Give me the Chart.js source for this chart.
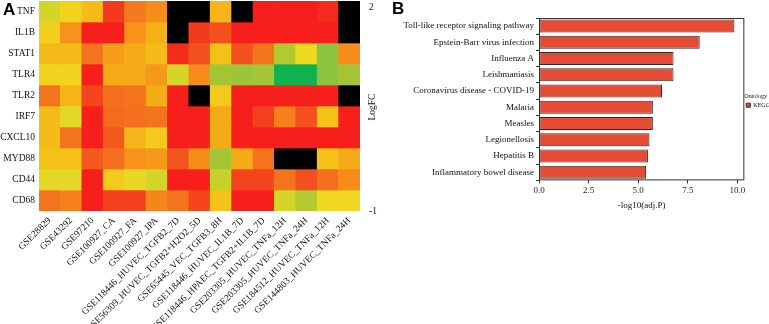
<!DOCTYPE html>
<html lang="en">
<head>
  <meta charset="UTF-8" />
  <title>LogFC heatmap and KEGG enrichment</title>
  <script src="https://cdn.jsdelivr.net/npm/chart.js"></script>
  <style>
    body {
      margin: 0;
      background: #fff;
    }

    .figure {
      position: relative;
      width: 769px;
      height: 324px;
      overflow: hidden;
    }

    .panel {
      position: absolute;
    }

    .tag {
      position: absolute;
      font-family: 'Liberation Sans', Arial, sans-serif;
      font-weight: bold;
      font-size: 17px;
      line-height: 17px;
      color: #000;
      z-index: 2;
    }
  </style>
</head>
<body>

  <div class="figure">
    <div class="tag" style="left:3px; top:1px;">A</div>
    <div class="tag" style="left:392px; top:0px;">B</div>

    <div class="panel" style="left:0; top:0; width:400px; height:324px;">
      <canvas id="heatChart"></canvas>
    </div>

    <div class="panel" style="left:400px; top:0; width:369px; height:215px;">
      <canvas id="keggChart"></canvas>
    </div>
  </div>

  <script>
    // ---- panel A data ----
    const genes = ['TNF', 'IL1B', 'STAT1', 'TLR4', 'TLR2', 'IRF7', 'CXCL10', 'MYD88', 'CD44', 'CD68'];

    const datasetsA = [
      'GSE28829', 'GSE43292', 'GSE97210', 'GSE100927_CA', 'GSE100927_FA', 'GSE100927_IPA',
      'GSE118446_HUVEC_TGFB2_7D', 'GSE56309_HUVEC_TGFB2+H2O2_5D', 'GSE65445_VEC_TGFB3_8H',
      'GSE118446_HUVEC_IL1B_7D', 'GSE118446_HPAEC_TGFB2+IL1B_7D', 'GSE203305_HUVEC_TNFa_12H',
      'GSE203305_HUVEC_TNFa_24H', 'GSE184512_HUVEC_TNFa_12H', 'GSE144803_HUVEC_TNFa_24H'
    ];

    // one row per gene, one value per dataset (values above 2 are shown black)
    const logFC = [
      [-0.05, 0.2, 0.45, 1.6, 1.0, 0.85, 2.5, 2.5, 0.5, 2.5, 1.95, 1.95, 1.95, 1.75, 2.5],
      [0.25, 0.8, 1.95, 1.95, 0.8, 0.55, 2.5, 1.6, 1.4, 1.95, 1.95, 1.95, 1.95, 1.95, 2.5],
      [0.45, 0.45, 1.05, 0.7, 0.6, 0.45, 1.75, 1.4, 0.4, 1.4, 1.05, -0.3, 0.15, -0.55, 0.85],
      [0.2, 0.2, 1.95, 0.6, 0.6, 0.75, -0.05, 0.85, -0.4, -0.45, -0.4, -0.95, -0.95, -0.55, -0.4],
      [1.05, 0.5, 1.5, 1.1, 1.05, 0.6, 1.95, 2.5, 0.3, 1.95, 1.95, 1.95, 1.95, 1.95, 2.5],
      [0.45, 0.05, 1.95, 1.15, 1.1, 1.05, 1.95, 1.95, 0.6, 1.95, 1.55, 0.95, 1.4, 0.38, 1.95],
      [0.45, 1.05, 1.95, 1.3, 0.5, 0.3, 1.95, 1.95, 0.6, 1.95, 1.95, 1.95, 1.95, 1.95, 1.95],
      [0.38, 0.38, 1.3, 1.1, 0.8, 0.75, 1.35, 0.85, -0.4, 0.6, 1.05, 2.5, 2.5, 0.38, 0.6],
      [0.05, 0.05, 1.95, 0.3, 0.1, -0.05, 1.95, 1.95, -0.15, 1.5, 1.5, 1.05, 1.4, 1.1, 0.85],
      [1.05, 0.95, 1.95, 1.55, 1.55, 0.9, 1.05, 1.5, 0.38, 1.95, 1.95, -0.05, -0.3, 0.15, 0.15]
    ];

    const colorbarTicks = [2, -1];

    // ---- panel B data ----
    const pathways = [
      'Toll-like receptor signaling pathway', 'Epstein-Barr virus infection', 'Influenza A',
      'Leishmaniasis', 'Coronavirus disease - COVID-19', 'Malaria', 'Measles',
      'Legionellosis', 'Hepatitis B', 'Inflammatory bowel disease'
    ];
    const negLog10P = [9.85, 8.1, 6.78, 6.78, 6.2, 5.74, 5.74, 5.57, 5.49, 5.4];
    const xTicksB = [0, 2.5, 5, 7.5, 10];

    // colour ramp green -> yellow -> red, black above the top of the scale
    const ramp = [
      [-1, [0, 176, 80]],
      [-0.55, [140, 196, 64]],
      [-0.3, [180, 200, 48]],
      [0, [220, 216, 40]],
      [0.15, [240, 216, 32]],
      [0.4, [245, 192, 24]],
      [0.6, [245, 170, 24]],
      [0.85, [247, 140, 26]],
      [1.05, [244, 116, 30]],
      [1.4, [244, 80, 30]],
      [1.75, [244, 42, 28]],
      [2, [248, 28, 28]]
    ];

    function colorFor(v) {
      if (v > 2) return '#000';
      if (v <= ramp[0][0]) return 'rgb(' + ramp[0][1].join(',') + ')';
      for (let i = 1; i < ramp.length; i++) {
        if (v <= ramp[i][0]) {
          const [v0, c0] = ramp[i - 1];
          const [v1, c1] = ramp[i];
          const t = (v - v0) / (v1 - v0);
          const c = c0.map((x, k) => Math.round(x + (c1[k] - x) * t));
          return 'rgb(' + c.join(',') + ')';
        }
      }
      return 'rgb(' + ramp[ramp.length - 1][1].join(',') + ')';
    }

    function noPad(s) {
      s.paddingTop = 0;
      s.paddingBottom = 0;
      s.paddingLeft = 0;
      s.paddingRight = 0;
    }

    const serif = 'Liberation Serif, Times New Roman, serif';
    Chart.defaults.font.family = serif;
    Chart.defaults.color = '#111';
    Chart.defaults.animation = false;

    // ---- heatmap as stacked unit bars ----
    const heatSets = genes.map((g, r) => ({
      label: g,
      data: datasetsA.map(() => 1),
      backgroundColor: logFC[r].map(colorFor),
      borderWidth: 0,
      barPercentage: 1,
      categoryPercentage: 1
    }));

    const logfcTitle = {
      id: 'logfcTitle',
      afterDraw(chart) {
        const { ctx, chartArea } = chart;
        ctx.save();
        ctx.font = '9.5px ' + serif;
        ctx.fillStyle = '#111';
        ctx.textAlign = 'center';
        ctx.textBaseline = 'middle';
        ctx.translate(372, (chartArea.top + chartArea.bottom) / 2 + 1);
        ctx.rotate(-Math.PI / 2);
        ctx.fillText('LogFC', 0, 0);
        ctx.restore();
      }
    };

    new Chart(document.getElementById('heatChart'), {
      type: 'bar',
      data: { labels: datasetsA, datasets: heatSets },
      options: {
        responsive: true,
        maintainAspectRatio: false,
        layout: { padding: { top: 1 } },
        plugins: { legend: { display: false }, tooltip: { enabled: false } },
        scales: {
          x: {
            stacked: true,
            grid: { display: false, drawTicks: false },
            border: { display: false },
            ticks: {
              autoSkip: false,
              minRotation: 45,
              maxRotation: 45,
              padding: 4,
              color: '#111',
              font: { size: 9.5 }
            },
            afterFit(s) { s.height = 113; noPad(s); }
          },
          y: {
            stacked: true,
            reverse: true,
            min: 0,
            max: genes.length,
            grid: { display: false, drawTicks: false },
            border: { display: false },
            afterBuildTicks(s) { s.ticks = genes.map((g, i) => ({ value: i + 0.5 })); },
            ticks: {
              padding: 4,
              color: '#111',
              font: { size: 9.5 },
              callback: (v) => genes[Math.floor(v)]
            },
            afterFit(s) { s.width = 39; noPad(s); }
          },
          y2: {
            type: 'linear',
            position: 'right',
            min: -1,
            max: 2.1,
            grid: { display: false, drawTicks: false },
            border: { display: false },
            afterBuildTicks(s) { s.ticks = colorbarTicks.map(v => ({ value: v })); },
            ticks: { padding: 9, color: '#111', font: { size: 9.5 } },
            afterFit(s) { s.width = 40; noPad(s); }
          }
        }
      },
      plugins: [logfcTitle]
    });

    // ---- KEGG bar chart ----
    const panelBox = {
      id: 'panelBox',
      afterDatasetsDraw(chart) {
        const { ctx, chartArea: a } = chart;
        ctx.save();
        ctx.strokeStyle = '#333';
        ctx.lineWidth = 1;
        ctx.strokeRect(a.left + 0.5, a.top + 0.5, a.right - a.left - 1, a.bottom - a.top - 1);
        ctx.restore();
      }
    };

    new Chart(document.getElementById('keggChart'), {
      type: 'bar',
      data: {
        labels: pathways,
        datasets: [{
          label: 'KEGG',
          data: negLog10P,
          backgroundColor: '#E64B35',
          borderColor: '#2a2a2a',
          borderWidth: 1,
          borderSkipped: false,
          barPercentage: 0.8,
          categoryPercentage: 1
        }]
      },
      options: {
        indexAxis: 'y',
        responsive: true,
        maintainAspectRatio: false,
        layout: { padding: { top: 18, right: -11, bottom: 4 } },
        plugins: {
          tooltip: { enabled: false },
          legend: {
            position: 'right',
            align: 'start',
            title: {
              display: true,
              text: 'Ontology',
              position: 'start',
              padding: { top: 75, bottom: 0 },
              font: { size: 6 },
              color: '#111'
            },
            labels: { boxWidth: 4, boxHeight: 4, padding: 2, font: { size: 6 }, color: '#111' }
          }
        },
        scales: {
          x: {
            min: 0,
            max: 10.35,
            grid: { drawOnChartArea: false, tickLength: 3, color: '#333' },
            border: { display: false },
            afterBuildTicks(s) { s.ticks = xTicksB.map(v => ({ value: v })); },
            ticks: {
              padding: 2,
              color: '#222',
              font: { size: 9 },
              callback: (v) => Number(v).toFixed(1)
            },
            title: { display: true, text: '-log10(adj.P)', color: '#111', font: { size: 9 }, padding: { top: 2, bottom: 0 } }
          },
          y: {
            grid: { drawOnChartArea: false, tickLength: 3, color: '#333' },
            border: { display: false },
            ticks: { padding: 2, color: '#111', font: { size: 9 } },
            afterFit(s) { s.width = 139; }
          }
        }
      },
      plugins: [panelBox]
    });
  </script>
</body>
</html>
